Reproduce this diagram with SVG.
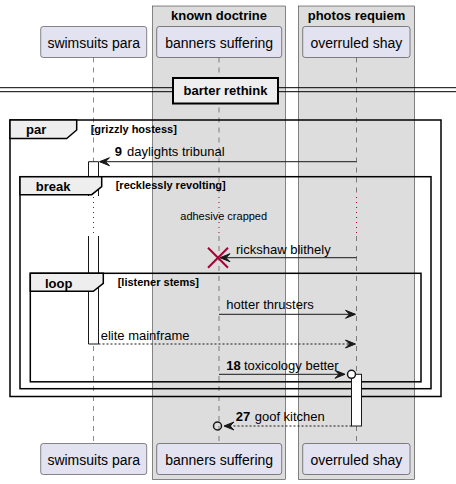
<svg xmlns="http://www.w3.org/2000/svg" width="456" height="484" viewBox="0 0 456 484">
<style>
text{font-family:"Liberation Sans",Arial,sans-serif;fill:#000}
.grp{fill:#DDDDDD;stroke:#181818;stroke-width:0.5}
.gt{font-size:13px;font-weight:bold;text-anchor:middle}
.part rect{fill:#E2E2F0;stroke:#181818;stroke-width:0.5}
.pt{font-size:14px;text-anchor:middle;fill:#000}
.life{stroke:#181818;stroke-width:0.5;stroke-dasharray:5,5;fill:none}
.dly{stroke:#A80036;stroke-width:1;stroke-dasharray:1,4;fill:none}
.frame{fill:none;stroke:#000;stroke-width:1.5}
.tab{fill:#EEEEEE;stroke:#000;stroke-width:1.5}
.ft{font-size:13px;font-weight:bold}
.fc{font-size:11px;font-weight:bold}
.act{fill:#FFFFFF;stroke:#181818;stroke-width:1}
.msg{stroke:#181818;stroke-width:1;fill:none}
.dash{stroke-dasharray:2,2}
.head{fill:#181818;stroke:#181818;stroke-width:1}
.mt{font-size:13px}
.num{font-size:13px;font-weight:bold}
</style>
<g id="box-known-doctrine">
<rect class="grp" x="152.5" y="6" width="133" height="473.5"/>
<text class="gt" x="219" y="20">known doctrine</text>
</g>
<g id="box-photos-requiem">
<rect class="grp" x="298.3" y="6" width="116.4" height="473.5"/>
<text class="gt" x="356.5" y="20">photos requiem</text>
</g>
<g id="lifelines">
<line class="life" x1="93.5" y1="57.5" x2="93.5" y2="196"/>
<line class="dly" x1="93.5" y1="197" x2="93.5" y2="236"/>
<line class="life" x1="93.5" y1="236" x2="93.5" y2="443.5"/>
<line class="life" x1="219" y1="57.5" x2="219" y2="196"/>
<line class="dly" x1="219" y1="197" x2="219" y2="236"/>
<line class="life" x1="219" y1="236" x2="219" y2="443.5"/>
<line class="life" x1="356.5" y1="57.5" x2="356.5" y2="196"/>
<line class="dly" x1="356.5" y1="197" x2="356.5" y2="236"/>
<line class="life" x1="356.5" y1="236" x2="356.5" y2="443.5"/>
</g>
<g id="swimsuits-para" class="part">
<rect x="40.7" y="26.5" width="106" height="31" rx="2.5"/>
<text class="pt" x="93.7" y="47.5">swimsuits para</text>
<rect x="40.7" y="443.5" width="106" height="31" rx="2.5"/>
<text class="pt" x="93.7" y="464.5">swimsuits para</text>
</g>
<g id="banners-suffering" class="part">
<rect x="156.7" y="26.5" width="125" height="31" rx="2.5"/>
<text class="pt" x="219.2" y="47.5">banners suffering</text>
<rect x="156.7" y="443.5" width="125" height="31" rx="2.5"/>
<text class="pt" x="219.2" y="464.5">banners suffering</text>
</g>
<g id="overruled-shay" class="part">
<rect x="302.7" y="26.5" width="107.3" height="31" rx="2.5"/>
<text class="pt" x="356.3" y="47.5">overruled shay</text>
<rect x="302.7" y="443.5" width="107.3" height="31" rx="2.5"/>
<text class="pt" x="356.3" y="464.5">overruled shay</text>
</g>
<g id="divider-barter-rethink">
<line x1="0" y1="87.7" x2="456" y2="87.7" stroke="#000" stroke-width="1"/>
<line x1="0" y1="91.7" x2="456" y2="91.7" stroke="#000" stroke-width="1"/>
<rect x="173" y="78" width="105" height="25.5" fill="#EEEEEE" stroke="#000" stroke-width="2"/>
<text class="ft" x="225.5" y="95" text-anchor="middle">barter rethink</text>
</g>
<g id="activation-swimsuits">
<rect x="88.5" y="161.7" width="10" height="182.3" fill="#FFFFFF" stroke="none"/>
<path class="msg" d="M88.5,196V161.7H98.5V196M88.5,236V344H98.5V236"/>
<line class="dly" x1="93.5" y1="197" x2="93.5" y2="236"/>
</g>
<g id="frame-par">
<rect class="frame" x="10" y="120" width="431" height="276.5"/>
<polygon class="tab" points="10,120 76.7,120 76.7,130 66.7,138.5 10,138.5"/>
<text class="ft" x="26" y="134">par</text>
<text class="fc" x="90.7" y="133">[grizzly hostess]</text>
</g>
<g id="frame-break">
<rect class="frame" x="20" y="176.7" width="411" height="212"/>
<polygon class="tab" points="20,176.7 101.7,176.7 101.7,186.7 91.7,194.7 20,194.7"/>
<text class="ft" x="35.7" y="190.5">break</text>
<text class="fc" x="115.7" y="189">[recklessly revolting]</text>
</g>
<g id="frame-loop">
<rect class="frame" x="30.3" y="273.3" width="390.7" height="108.5"/>
<polygon class="tab" points="30.3,273.3 103.3,273.3 103.3,283.3 93.3,291.3 30.3,291.3"/>
<text class="ft" x="45" y="287.5">loop</text>
<text class="fc" x="117.7" y="285.5">[listener stems]</text>
</g>
<g id="activation-overruled">
<rect class="act" x="351.5" y="374.3" width="10" height="51.7"/>
</g>
<g id="delay-note">
<text x="223.7" y="219.5" font-size="11" text-anchor="middle">adhesive crapped</text>
</g>
<g id="connectors">
<g id="msg-9">
<line class="msg" x1="356.5" y1="161.7" x2="100" y2="161.7"/>
<polygon class="head" points="99.5,161.7 109.5,157.7 105.5,161.7 109.5,165.7"/>
<text class="num" x="114.7" y="156">9</text>
<text class="mt" x="127" y="156">daylights tribunal</text>
</g>
<g id="msg-rickshaw">
<line class="msg" x1="356.5" y1="257.7" x2="221" y2="257.7"/>
<polygon class="head" points="220,257.7 230,253.7 226,257.7 230,261.7"/>
<path d="M208,247.7L228,267.7M208,267.7L228,247.7" stroke="#A80036" stroke-width="2" fill="none"/>
<text class="mt" x="236" y="253.5">rickshaw blithely</text>
</g>
<g id="msg-hotter">
<line class="msg" x1="219" y1="314.3" x2="355" y2="314.3"/>
<polygon class="head" points="355.5,314.3 345.5,310.3 349.5,314.3 345.5,318.3"/>
<text class="mt" x="226.3" y="308.5">hotter thrusters</text>
</g>
<g id="msg-elite">
<line class="msg dash" x1="98.5" y1="344" x2="355" y2="344"/>
<polygon class="head" points="355.5,344 345.5,340 349.5,344 345.5,348"/>
<text class="mt" x="100.7" y="339.5">elite mainframe</text>
</g>
<g id="msg-18">
<line class="msg" x1="219" y1="374.3" x2="344.5" y2="374.3"/>
<polygon class="head" points="345,374.3 335,370.3 339,374.3 335,378.3"/>
<circle cx="351.5" cy="374.3" r="4" fill="#FFFFFF" stroke="#181818" stroke-width="1.5"/>
<text class="num" x="226.3" y="369.5">18</text>
<text class="mt" x="244" y="369.5">toxicology better</text>
</g>
<g id="msg-27">
<line class="msg dash" x1="351.5" y1="426" x2="224.5" y2="426"/>
<polygon class="head" points="224,426 234,422 230,426 234,430"/>
<circle cx="217.5" cy="426" r="4" fill="none" stroke="#181818" stroke-width="1.5"/>
<text class="num" x="235.7" y="420.5">27</text>
<text class="mt" x="254.7" y="420.5">goof kitchen</text>
</g>
</g>
</svg>
